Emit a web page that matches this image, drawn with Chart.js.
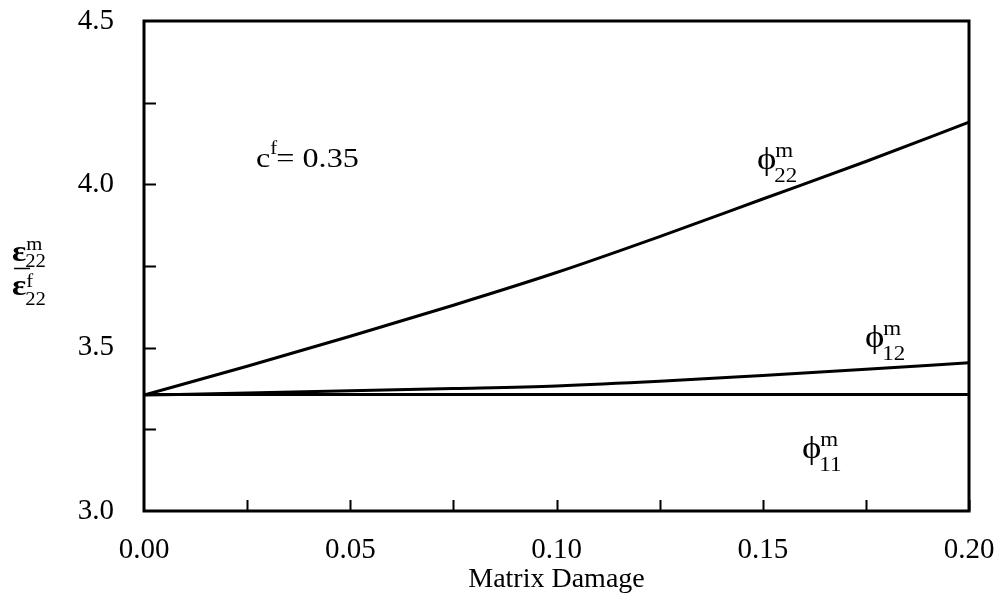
<!DOCTYPE html>
<html>
<head>
<meta charset="utf-8">
<script src="https://cdn.jsdelivr.net/npm/chart.js@4"></script>
<style>
  html, body { margin: 0; padding: 0; background: #fff; }
  #wrap { width: 1001px; height: 600px; }
</style>
</head>
<body>
<div id="wrap"><canvas id="strainChart"></canvas></div>
<script>
// matrix damage values along the x axis
const damage = [0, 0.025, 0.05, 0.075, 0.10, 0.125, 0.15, 0.175, 0.20];
// strain concentration ratio for each damage mode
const phi22 = [3.355, 3.443, 3.535, 3.630, 3.730, 3.840, 3.955, 4.070, 4.190];
const phi12 = [3.355, 3.361, 3.368, 3.375, 3.383, 3.397, 3.415, 3.434, 3.454];
const phi11 = [3.357, 3.357, 3.357, 3.357, 3.357, 3.357, 3.357, 3.357, 3.357];

const xMajor = [0, 0.05, 0.10, 0.15, 0.20];
const yMajor = [3.0, 3.5, 4.0, 4.5];

const serif = '"Liberation Serif", "Times New Roman", serif';

function pts(ys) {
    return damage.map(function(x, i) { return { x: x, y: ys[i] }; });
}

function curve(label, ys) {
    return {
        label: label,
        data: pts(ys),
        borderColor: '#000',
        borderWidth: 3,
        pointRadius: 0,
        fill: false,
        cubicInterpolationMode: 'monotone'
    };
}

// text drawn slightly wider than the font normally is
function wideText(ctx, str, x, y, font) {
    ctx.save();
    ctx.font = font;
    ctx.translate(x, y);
    ctx.scale(1.15, 1);
    ctx.fillText(str, 0, 0);
    let w = ctx.measureText(str).width * 1.15;
    ctx.restore();
    return w;
}

// frame, inward ticks and text annotations
const decorations = {
    id: 'decorations',
    afterDraw: function(chart) {
        let ctx = chart.ctx;
        let a = chart.chartArea;
        let xs = chart.scales.x;
        let ys = chart.scales.y;
        ctx.save();
        ctx.strokeStyle = '#000';
        ctx.lineWidth = 3;
        ctx.strokeRect(a.left, a.top, a.right - a.left, a.bottom - a.top);

        ctx.lineWidth = 2;
        ctx.beginPath();
        for (let v = 0.025; v < 0.2; v += 0.025) {
            let px = Math.round(xs.getPixelForValue(v)) + 0.5;
            ctx.moveTo(px, a.bottom);
            ctx.lineTo(px, a.bottom - 11);
        }
        for (let v = 3.25; v < 4.5; v += 0.25) {
            let py = Math.round(ys.getPixelForValue(v)) + 0.5;
            ctx.moveTo(a.left, py);
            ctx.lineTo(a.left + 12, py);
        }
        ctx.stroke();

        ctx.fillStyle = '#000';
        ctx.textBaseline = 'alphabetic';
        ctx.textAlign = 'left';

        // c^f annotation
        let w = wideText(ctx, 'c', 256, 167, '28px ' + serif);
        wideText(ctx, 'f', 256 + w, 154, '18px ' + serif);
        wideText(ctx, '= 0.35', 256 + w + 6, 167, '28px ' + serif);

        function phiLabel(x, y, sub) {
            let pw = wideText(ctx, '\u03D5', x, y, '32px ' + serif);
            wideText(ctx, 'm', x + pw - 1, y - 12, '20px ' + serif);
            wideText(ctx, sub, x + pw - 2, y + 13, '20px ' + serif);
        }
        phiLabel(757, 169, '22');
        phiLabel(865, 347, '12');
        phiLabel(802, 458, '11');

        // y axis label: fraction of strains
        function eps(x, y, sup, supY, subY) {
            let ew = wideText(ctx, '\u03B5', x, y, 'bold 29px ' + serif);
            wideText(ctx, sup, x + ew, supY, '18px ' + serif);
            wideText(ctx, '22', x + ew - 1, subY, '18px ' + serif);
        }
        eps(12, 261, 'm', 250, 267);
        eps(12, 295, 'f', 287, 305);
        ctx.lineWidth = 1.5;
        ctx.beginPath();
        ctx.moveTo(14, 268.5);
        ctx.lineTo(30, 268.5);
        ctx.stroke();
        ctx.restore();
    }
};

let chartCtx = document.getElementById('strainChart').getContext('2d');

let strainChart = new Chart(chartCtx, {
    type: 'line',
    data: {
        datasets: [
            curve('phi22', phi22),
            curve('phi12', phi12),
            curve('phi11', phi11)
        ]
    },
    options: {
        responsive: true,
        maintainAspectRatio: false,
        animation: false,
        events: [],
        layout: { padding: { left: 0, top: 21, right: 32, bottom: 0 } },
        plugins: {
            legend: { display: false },
            tooltip: { enabled: false }
        },
        scales: {
            x: {
                type: 'linear',
                min: 0,
                max: 0.2,
                afterBuildTicks: function(scale) {
                    scale.ticks = xMajor.map(function(v) { return { value: v }; });
                },
                afterFit: function(scale) {
                    scale.height = 89;
                    scale.paddingLeft = 0;
                    scale.paddingRight = 0;
                },
                grid: { display: false },
                border: { display: false },
                ticks: {
                    color: '#000',
                    padding: 14,
                    maxRotation: 0,
                    font: { family: serif, size: 29 },
                    callback: function(v) { return v.toFixed(2); }
                },
                title: {
                    display: true,
                    text: 'Matrix Damage',
                    color: '#000',
                    padding: { top: 0, bottom: 4 },
                    font: { family: serif, size: 28 }
                }
            },
            y: {
                type: 'linear',
                min: 3.0,
                max: 4.5,
                afterBuildTicks: function(scale) {
                    scale.ticks = yMajor.map(function(v) { return { value: v }; });
                },
                afterFit: function(scale) {
                    scale.width = 144;
                    scale.paddingTop = 0;
                    scale.paddingBottom = 0;
                },
                grid: { display: false },
                border: { display: false },
                ticks: {
                    color: '#000',
                    padding: 22,
                    font: { family: serif, size: 29 },
                    callback: function(v) { return v.toFixed(1); }
                }
            }
        }
    },
    plugins: [decorations]
});
</script>
</body>
</html>
